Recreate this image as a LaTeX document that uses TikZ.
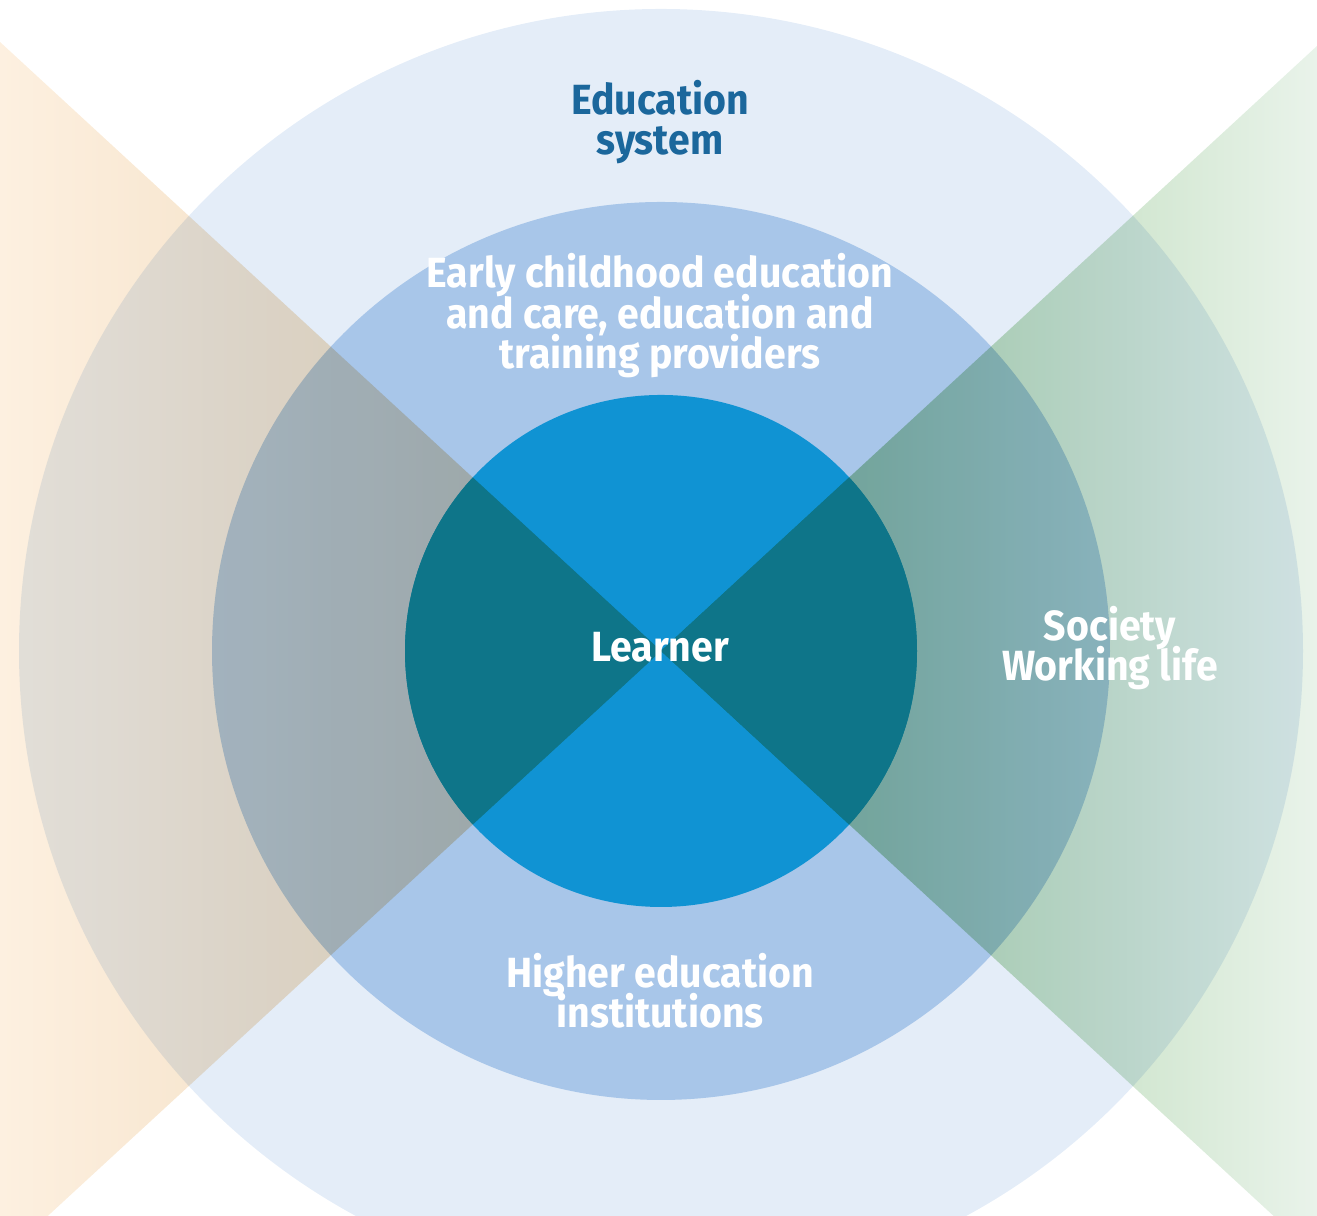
\documentclass[tikz,border=0pt]{standalone}
\usepackage{fontspec}
\setmainfont{Fira Sans}[FakeStretch=0.93]
\usepackage{xcolor}
\usetikzlibrary{positioning}
\definecolor{outerring}{HTML}{E4EDF8}
\definecolor{midring}{HTML}{A8C6E9}
\definecolor{learnerblue}{HTML}{1093D3}
\definecolor{overlapteal}{HTML}{0E7589}
\definecolor{edublue}{HTML}{1B679C}
\definecolor{peachedge}{HTML}{FDF0E0}
\definecolor{peachmid}{HTML}{FBDDB8}
\definecolor{peachin}{HTML}{EBD1AD}
\definecolor{greenedge}{HTML}{E9F3EA}
\definecolor{greenmid}{HTML}{B4DAB4}
\definecolor{greenin}{HTML}{98C892}
\newcommand{\ringfont}{\bfseries\fontsize{12}{11.5}\selectfont\setlength{\lineskiplimit}{-20pt}}
\tikzset{ringtext/.style={align=center,font=\ringfont,text=white,inner sep=0pt}}

\begin{document}
\begin{tikzpicture}[x=0.01cm,y=0.01cm]
      \useasboundingbox (0,0) rectangle (1317,1216);
      \clip (0,0) rectangle (1317,1216);
      \coordinate (centre) at (661,565);

      % rings
      \fill[outerring] (centre) circle[radius=642];
      \fill[midring] (centre) circle[radius=449];
      \fill[learnerblue] (centre) circle[radius=256];

      % side wedges
      \begin{scope}[blend mode=multiply]
        \shade[left color=peachedge, middle color=peachmid, right color=peachin]
          (0,-44) -- (0,1174) -- (centre) -- cycle;
        \shade[left color=greenin, middle color=greenmid, right color=greenedge]
          (1317,-40) -- (1317,1170) -- (centre) -- cycle;
      \end{scope}
      \begin{scope}
        \clip (centre) circle[radius=256];
        \fill[overlapteal] (0,-44) -- (0,1174) -- (centre) -- cycle;
        \fill[overlapteal] (1317,-40) -- (1317,1170) -- (centre) -- cycle;
      \end{scope}

      \node[ringtext,text=edublue] (system) at (660,1094) {Education\\system};
      \node[ringtext] (providers) at (660,900) {Early childhood education\\and care, education and\\training providers};
      \node[ringtext] (learner) at (660,569) {Learner};
      \node[ringtext] (society) at (1110,568) {Society\\Working life};
      \node[ringtext] (higher) at (660,225) {Higher education\\institutions};
  \end{tikzpicture}
\end{document}
